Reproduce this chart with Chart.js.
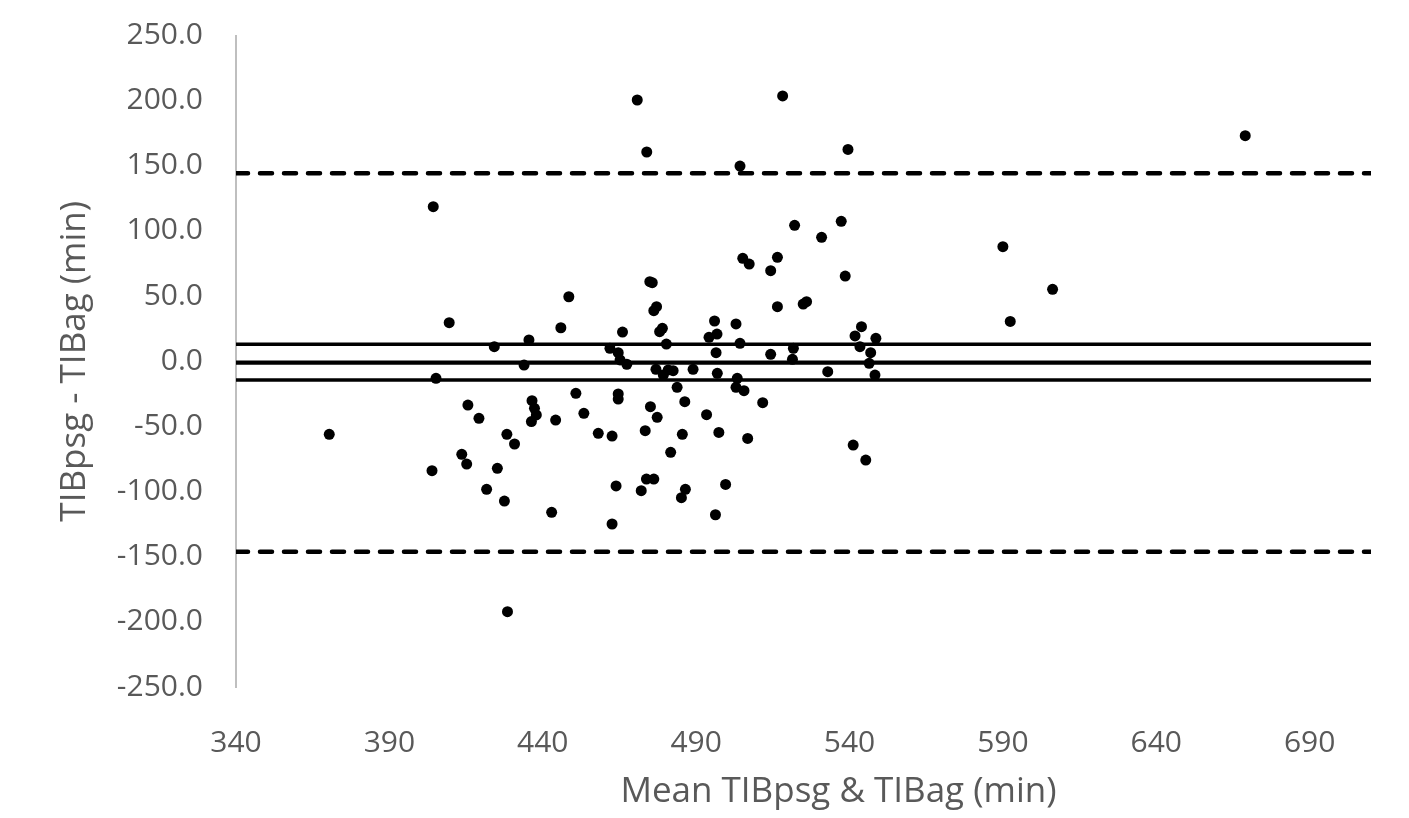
<!DOCTYPE html>
<html>
<head>
<meta charset="utf-8">
<script src="https://cdn.jsdelivr.net/npm/chart.js@4.4.1/dist/chart.umd.min.js"></script>
<style>
  html, body { margin: 0; padding: 0; background: #fff; }
  #wrap { width: 1409px; height: 818px; position: relative; }
</style>
</head>
<body>
<div id="wrap"><canvas id="baChart"></canvas></div>
<script>
// mean of the two methods (min)
const meanTib = [
  404.3, 409.5, 405.2, 415.6, 370.4, 403.9, 413.6, 415.2, 424.2, 435.5,
  445.9, 448.5, 433.9, 419.2, 436.5, 437.3, 437.9, 436.3, 444.2, 421.7,
  425.2, 427.5, 428.3, 430.8, 428.5, 442.9, 450.8, 453.4, 458.1, 462.6,
  462.6, 463.9, 464.6, 464.6, 473.4, 472.1, 473.8, 476.2, 475.1, 477.3,
  481.7, 483.8, 486.3, 485.5, 486.5, 485.2, 493.4, 497.4, 496.3, 499.6,
  503.0, 505.6, 506.8, 511.7, 541.2, 545.3, 470.8, 518.2, 473.9, 539.5,
  504.3, 522.1, 530.9, 537.3, 505.2, 507.3, 516.5, 514.3, 538.6, 474.9,
  475.7, 477.1, 476.2, 516.5, 524.9, 526.0, 466.0, 479.0, 478.1, 496.0,
  503.0, 543.9, 541.8, 548.6, 494.2, 496.8, 521.7, 514.3, 496.5, 504.3,
  480.3, 521.4, 543.4, 546.9, 546.4, 548.3, 532.9, 461.9, 464.6, 465.2,
  467.4, 476.9, 479.3, 480.9, 482.5, 489.0, 496.9, 503.4, 669.0, 590.0,
  606.2, 592.4
];
// difference TIBpsg - TIBag (min)
const diffTib = [
  118.6, 29.6, -13.1, -33.6, -56.1, -84.0, -71.4, -78.9, 11.2, 16.3,
  25.7, 49.5, -2.9, -43.8, -30.3, -36.1, -41.2, -46.3, -45.1, -98.3,
  -82.2, -107.3, -56.1, -63.5, -192.2, -115.9, -24.6, -40.0, -55.3, -57.4,
  -124.9, -95.7, -25.1, -29.0, -53.3, -99.3, -90.4, -90.4, -34.9, -43.0,
  -69.9, -20.0, -31.0, -56.1, -98.3, -104.7, -41.0, -54.6, -117.8, -94.5,
  -20.0, -22.6, -59.2, -31.8, -64.3, -75.8, 200.5, 203.6, 160.6, 162.6,
  149.8, 104.3, 95.1, 107.4, 79.0, 74.6, 79.8, 69.5, 65.4, 61.1,
  60.3, 41.9, 38.8, 41.9, 43.9, 45.7, 22.4, 25.3, 22.7, 30.9,
  28.6, 26.5, 19.4, 17.6, 18.4, 20.9, 9.9, 5.3, 6.6, 13.8,
  13.2, 1.5, 11.2, 6.6, -1.6, -10.6, -8.0, 9.9, 6.6, 1.0,
  -2.3, -6.2, -10.6, -6.7, -7.2, -6.2, -9.3, -13.1, 173.1, 87.9,
  55.2, 30.6
];

// bias, its confidence interval and limits of agreement
const meanDiff = -1.1;
const ciUpper = 13.0;
const ciLower = -14.4;
const loaUpper = 144.2;
const loaLower = -146.2;

const xTicks = [340, 390, 440, 490, 540, 590, 640, 690];
const yTicks = [-250, -200, -150, -100, -50, 0, 50, 100, 150, 200, 250];
const xMin = 340, xMax = 710;

const grey = '#595959';

function hLine(v, width, dash) {
  return {
    type: 'line',
    data: [{ x: xMin, y: v }, { x: xMax, y: v }],
    borderColor: '#000',
    borderWidth: width,
    borderDash: dash || [],
    borderCapStyle: dash ? 'round' : 'butt',
    pointRadius: 0,
    fill: false
  };
}

// x axis title, drawn centred a bit right of the plot
const xTitle = {
  id: 'xTitle',
  afterDraw(chart) {
    const c = chart.ctx;
    const area = chart.chartArea;
    c.save();
    c.font = '35px "Open Sans"';
    c.fillStyle = grey;
    c.textAlign = 'center';
    c.textBaseline = 'middle';
    c.fillText('Mean TIBpsg & TIBag (min)', (area.left + area.right) / 2 + 35, 792);
    c.restore();
  }
};

new Chart(document.getElementById('baChart'), {
  type: 'scatter',
  data: {
    datasets: [
      {
        data: meanTib.map((m, i) => ({ x: m, y: diffTib[i] })),
        backgroundColor: '#000',
        borderWidth: 0,
        pointRadius: 5.5,
        pointHoverRadius: 5.5
      },
      hLine(loaUpper, 4.5, [12, 12]),
      hLine(loaLower, 4.5, [12, 12]),
      hLine(ciUpper, 3.4),
      hLine(meanDiff, 4.2),
      hLine(ciLower, 3.4)
    ]
  },
  options: {
    responsive: true,
    maintainAspectRatio: false,
    devicePixelRatio: 1,
    animation: false,
    layout: { padding: { top: 35.5, right: 38, left: 0, bottom: 0 } },
    plugins: { legend: { display: false }, tooltip: { enabled: false } },
    scales: {
      x: {
        type: 'linear',
        min: xMin,
        max: xMax,
        grid: { display: false },
        border: { display: false },
        afterBuildTicks: axis => { axis.ticks = xTicks.map(v => ({ value: v })); },
        afterFit: axis => { axis.height = 131; axis.paddingLeft = 0; axis.paddingRight = 0; },
        ticks: {
          color: grey,
          padding: 30,
          maxRotation: 0,
          font: { family: 'Open Sans', size: 30 }
        }
      },
      y: {
        min: -250,
        max: 250,
        grid: { display: false, drawTicks: false },
        border: { display: true, color: '#bfbfbf', width: 2 },
        afterBuildTicks: axis => { axis.ticks = yTicks.map(v => ({ value: v })); },
        afterFit: axis => { axis.width = 236; axis.paddingTop = 0; axis.paddingBottom = 0; },
        ticks: {
          color: grey,
          padding: 33,
          font: { family: 'Open Sans', size: 30 },
          callback: v => v.toFixed(1)
        },
        title: {
          display: true,
          text: 'TIBpsg - TIBag (min)',
          color: grey,
          padding: { top: 54, bottom: 0 },
          font: { family: 'Open Sans', size: 35 }
        }
      }
    }
  },
  plugins: [xTitle]
});
</script>
</body>
</html>
